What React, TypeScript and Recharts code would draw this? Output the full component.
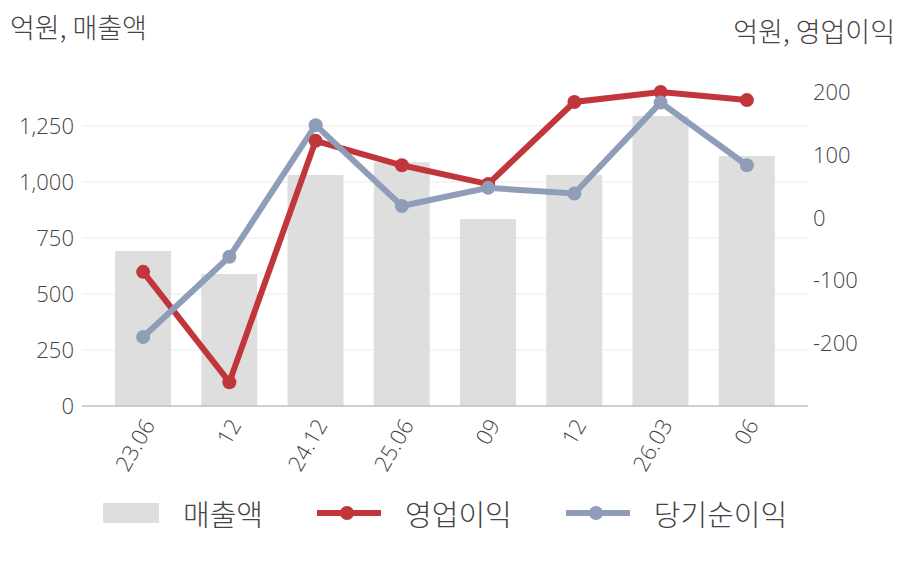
import { ComposedChart, Bar, Line, XAxis, YAxis, CartesianGrid } from "recharts";

const periods = ["23.06", "12", "24.12", "25.06", "09", "12", "26.03", "06"];
const sales = [692, 589, 1031, 1088, 835, 1031, 1295, 1116];
const operatingProfit = [-86, -262, 123, 84, 54, 185, 201, 188];
const netProfit = [-190, -62, 148, 19, 48, 39, 184, 84];

const leftTicks = [0, 250, 500, 750, 1000, 1250];
const rightTicks = [-200, -100, 0, 100, 200];

const FONT = "'Open Sans', 'Noto Sans CJK KR', sans-serif";
const KFONT = "'Noto Sans CJK KR', sans-serif";
const TEXT = "#444";
const BAR = "#dedede";
const RED = "#c1363a";
const BLUE = "#8f9db8";

const data = periods.map((p, i) => ({
  name: p,
  sales: sales[i],
  op: operatingProfit[i],
  net: netProfit[i],
}));

function XTick({ x, y, payload }: any) {
  return (
    <g transform={`translate(${x + 6},${y + 7})`}>
      <text
        textAnchor="end"
        transform="rotate(-60)"
        dy="0.35em"
        fontSize={22}
        fontWeight={300}
        fill={TEXT}
        fontFamily={FONT}
      >
        {payload.value}
      </text>
    </g>
  );
}

const legendItems = [
  { label: "매출액", kind: "bar", color: BAR },
  { label: "영업이익", kind: "line", color: RED },
  { label: "당기순이익", kind: "line", color: BLUE },
];

function ChartLegend() {
  return (
    <div style={{ position: "absolute", left: 103, top: 496, display: "flex", alignItems: "center", fontFamily: KFONT }}>
      {legendItems.map((it, i) => (
        <div key={i} style={{ display: "flex", alignItems: "center", marginLeft: i === 0 ? 0 : 54 }}>
          {it.kind === "bar" ? (
            <svg width={56} height={34}>
              <rect x={0} y={7} width={56} height={20} fill={it.color} />
            </svg>
          ) : (
            <svg width={64} height={34}>
              <line x1={0} y1={17} x2={64} y2={17} stroke={it.color} strokeWidth={6} />
              <circle cx={30} cy={17} r={7} fill={it.color} />
            </svg>
          )}
          <span style={{ marginLeft: 24, fontSize: 29, fontWeight: 300, color: TEXT, lineHeight: "34px" }}>{it.label}</span>
        </div>
      ))}
    </div>
  );
}

export default function App() {
  const titleStyle = {
    position: "absolute" as const,
    fontSize: 27,
    fontWeight: 300,
    color: TEXT,
    fontFamily: KFONT,
    lineHeight: "34px",
  };
  const tickStyle = { fontSize: 22, fontWeight: 300, fill: TEXT, fontFamily: FONT };
  return (
    <div style={{ position: "absolute", left: 0, top: 0, width: 908, height: 580, background: "#fff" }}>
      <div style={{ ...titleStyle, left: 10, top: 10 }}>억원, 매출액</div>
      <div style={{ ...titleStyle, right: 13, top: 14 }}>억원, 영업이익</div>
      <ComposedChart
        width={908}
        height={580}
        data={data}
        margin={{ top: 70, right: 0, bottom: 0, left: 0 }}
        barCategoryGap={0}
      >
        <CartesianGrid yAxisId="left" vertical={false} stroke="#ebebeb" syncWithTicks />
        <XAxis
          dataKey="name"
          height={174}
          tick={<XTick />}
          tickLine={false}
          axisLine={{ stroke: "#aaa" }}
          interval={0}
          padding={{ left: 18, right: 18 }}
        />
        <YAxis
          yAxisId="left"
          orientation="left"
          width={82}
          domain={[0, 1500]}
          ticks={leftTicks}
          tickFormatter={(v: number) => v.toLocaleString("en-US")}
          tick={tickStyle}
          tickLine={false}
          axisLine={false}
        />
        <YAxis
          yAxisId="right"
          orientation="right"
          width={100}
          domain={[-300, 236]}
          ticks={rightTicks}
          tick={{ ...tickStyle, textAnchor: "start" }}
          tickLine={false}
          tickSize={3}
          axisLine={false}
        />
        <Bar yAxisId="left" dataKey="sales" name="매출액" fill={BAR} barSize={56} isAnimationActive={false} />
        <Line
          yAxisId="right"
          dataKey="op"
          name="영업이익"
          stroke={RED}
          strokeWidth={6}
          dot={{ r: 7, fill: RED, stroke: RED, strokeWidth: 0 }}
          activeDot={false}
          isAnimationActive={false}
        />
        <Line
          yAxisId="right"
          dataKey="net"
          name="당기순이익"
          stroke={BLUE}
          strokeWidth={6}
          dot={{ r: 7, fill: BLUE, stroke: BLUE, strokeWidth: 0 }}
          activeDot={false}
          isAnimationActive={false}
        />
      </ComposedChart>
      <ChartLegend />
    </div>
  );
}
